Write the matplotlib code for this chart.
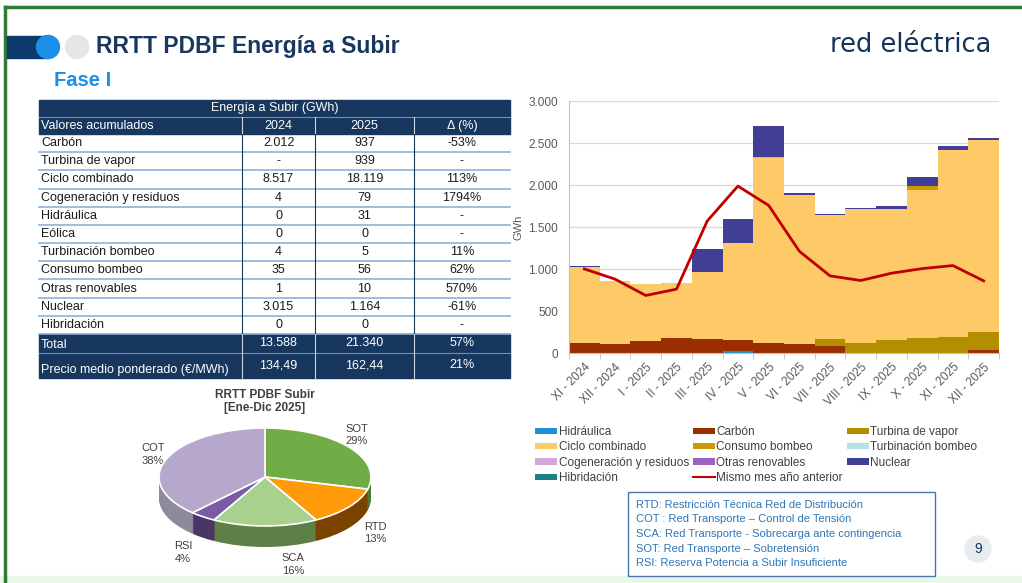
import matplotlib.pyplot as plt
import numpy as np
from matplotlib.patches import Rectangle, Circle, Patch
from matplotlib.lines import Line2D

plt.rcParams['font.family'] = ['Liberation Sans', 'DejaVu Sans']

# ---- bar chart data (GWh) ----
months = ["XI - 2024", "XII - 2024", "I - 2025", "II - 2025", "III - 2025", "IV - 2025", "V - 2025",
          "VI - 2025", "VII - 2025", "VIII - 2025", "IX - 2025", "X - 2025", "XI - 2025", "XII - 2025"]
hidraulica = [0, 0, 0, 0, 0, 28, 0, 0, 0, 0, 0, 0, 0, 0]
carbon = [125, 110, 138, 178, 162, 122, 123, 110, 80, 0, 0, 0, 0, 30]
turbina_vapor = [0, 0, 0, 0, 0, 0, 0, 0, 85, 125, 155, 180, 185, 215]
ciclo_combinado = [895, 750, 685, 660, 808, 1164, 2200, 1770, 1475, 1595, 1565, 1760, 2235, 2290]
consumo_bombeo = [0, 0, 0, 0, 0, 0, 0, 0, 0, 0, 0, 50, 0, 0]
turbinacion_bombeo = [0, 0, 0, 0, 0, 0, 0, 0, 0, 0, 0, 0, 0, 0]
cogeneracion = [0, 0, 0, 0, 0, 0, 10, 5, 0, 0, 0, 0, 0, 0]
otras_renovables = [0, 0, 0, 0, 0, 0, 0, 0, 0, 0, 0, 0, 0, 0]
nuclear = [15, 0, 0, 0, 265, 277, 370, 25, 18, 5, 35, 110, 50, 25]
hibridacion = [0, 0, 0, 0, 0, 0, 0, 0, 0, 0, 0, 0, 0, 0]
mismo_mes_anterior = [1001, 879, 685, 760, 1571, 1987, 1757, 1211, 918, 863, 950, 1005, 1041, 859]

# ---- table data ----
tabla_filas = ["Carbón", "Turbina de vapor", "Ciclo combinado", "Cogeneración y residuos", "Hidráulica",
               "Eólica", "Turbinación bombeo", "Consumo bombeo", "Otras renovables", "Nuclear", "Hibridación"]
tabla_2024 = ["2.012", "-", "8.517", "4", "0", "0", "4", "35", "1", "3.015", "0"]
tabla_2025 = ["937", "939", "18.119", "79", "31", "0", "5", "56", "10", "1.164", "0"]
tabla_delta = ["-53%", "-", "113%", "1794%", "-", "-", "11%", "62%", "570%", "-61%", "-"]
total_fila = ["Total", "13.588", "21.340", "57%"]
precio_fila = ["Precio medio ponderado (€/MWh)", "134,49", "162,44", "21%"]

# ---- pie data ----
pie_labels = ["SOT", "RTD", "SCA", "RSI", "COT"]
pie_values = [29, 13, 16, 4, 38]

notas = ["RTD: Restricción Técnica Red de Distribución",
         "COT : Red Transporte – Control de Tensión",
         "SCA: Red Transporte - Sobrecarga ante contingencia",
         "SOT: Red Transporte – Sobretensión",
         "RSI: Reserva Potencia a Subir Insuficiente"]

NAVY = "#17375e"
W, H = 1022, 583

fig = plt.figure(figsize=(W / 100, H / 100), dpi=100)

# background axes in pixel coordinates
bg = fig.add_axes([0, 0, 1, 1])
bg.set_xlim(0, W)
bg.set_ylim(H, 0)
bg.axis("off")

# slide frame
bg.add_patch(Rectangle((0, 0), W, H, color="white", zorder=0))
bg.add_patch(Rectangle((0, 576), W, 7, color="#e9f6e9", zorder=1))
bg.plot([5, W], [7, 7], color="#2f7d32", lw=2.5, zorder=2)
bg.plot([5, 5], [7, H], color="#2f7d32", lw=2.5, zorder=2)

# title decoration
bg.add_patch(Rectangle((7, 36), 41, 22, color="#0b3a6b", zorder=2))
bg.add_patch(Circle((48, 47), 11.5, color="#1a8fe8", zorder=3))
bg.add_patch(Circle((77, 47), 11.5, color="#e4e6e9", zorder=3))
bg.text(96, 47, "RRTT PDBF Energía a Subir", fontsize=16.5, fontweight="bold", color=NAVY,
        va="center", ha="left")
bg.text(54, 81, "Fase I", fontsize=14.5, fontweight="bold", color="#1a8fe8", va="center", ha="left")
bg.text(911, 45, "red eléctrica", fontsize=18.5, color="#14345a", va="center", ha="center",
        family="DejaVu Sans")

# ---- table ----
cx = [39, 242, 315, 414, 510]
centers = [(cx[1] + cx[2]) / 2, (cx[2] + cx[3]) / 2, (cx[3] + cx[4]) / 2]
bg.add_patch(Rectangle((39, 100), 471, 34, color=NAVY, zorder=2))
bg.text(275, 108.5, "Energía a Subir (GWh)", color="white", fontsize=9, ha="center", va="center", zorder=3)
bg.plot([39, 510], [117, 117], color="#6d8fb8", lw=0.8, zorder=3)
bg.text(41, 126, "Valores acumulados", color="white", fontsize=9, ha="left", va="center", zorder=3)
for xc, t in zip(centers, ["2024", "2025", "Δ (%)"]):
    bg.text(xc, 126, t, color="white", fontsize=9, ha="center", va="center", zorder=3)
for x in cx[1:4]:
    bg.plot([x, x], [117, 134], color="#c9d6e6", lw=0.8, zorder=3)

row_h = 200 / 11
for i, nombre in enumerate(tabla_filas):
    y0 = 134 + i * row_h
    yc = y0 + row_h / 2
    bg.text(41, yc, nombre, fontsize=9, color="#1a1a1a", ha="left", va="center", zorder=3)
    for xc, t in zip(centers, [tabla_2024[i], tabla_2025[i], tabla_delta[i]]):
        bg.text(xc, yc, t, fontsize=9, color="#1a1a1a", ha="center", va="center", zorder=3)
    bg.plot([39, 510], [y0 + row_h, y0 + row_h], color="#8fb1d9", lw=1.2, zorder=3)
for x in cx[1:4]:
    bg.plot([x, x], [134, 334], color=NAVY, lw=0.8, zorder=3)

bg.add_patch(Rectangle((39, 334), 471, 44, color=NAVY, zorder=2))
bg.plot([39, 510], [353, 353], color="#6d8fb8", lw=0.8, zorder=3)
for x in cx[1:4]:
    bg.plot([x, x], [334, 378], color="#c9d6e6", lw=0.8, zorder=3)
bg.text(41, 345, total_fila[0], color="white", fontsize=9, ha="left", va="center", zorder=3)
bg.text(41, 370, precio_fila[0], color="white", fontsize=9, ha="left", va="center", zorder=3)
for j, xc in enumerate(centers):
    bg.text(xc, 343.5, total_fila[j + 1], color="white", fontsize=9, ha="center", va="center", zorder=3)
    bg.text(xc, 365, precio_fila[j + 1], color="white", fontsize=9, ha="center", va="center", zorder=3)

# ---- stacked bar chart ----
ax = fig.add_axes([569 / W, 1 - 353 / H, (999 - 569) / W, (353 - 101) / H])
ax.patch.set_alpha(0)
x = np.arange(len(months))
series = [
    ("Hidráulica", hidraulica, "#1f8fd6"),
    ("Carbón", carbon, "#9a2e00"),
    ("Turbina de vapor", turbina_vapor, "#b38f00"),
    ("Ciclo combinado", ciclo_combinado, "#fdca67"),
    ("Consumo bombeo", consumo_bombeo, "#cc9a06"),
    ("Turbinación bombeo", turbinacion_bombeo, "#b5e1e6"),
    ("Cogeneración y residuos", cogeneracion, "#d5a6d6"),
    ("Otras renovables", otras_renovables, "#9a63c4"),
    ("Nuclear", nuclear, "#403e95"),
    ("Hibridación", hibridacion, "#1a8185"),
]
bottom = np.zeros(len(months))
handles = {}
for name, vals, col in series:
    ax.bar(x, vals, bottom=bottom, width=1.0, color=col, linewidth=0, zorder=2)
    handles[name] = Patch(facecolor=col)
    bottom += np.array(vals)
ax.plot(x, mismo_mes_anterior, color="#c00000", lw=2, zorder=3)
handles["Mismo mes año anterior"] = Line2D([], [], color="#c00000", lw=1.5)

ax.set_xlim(-0.5, len(months) - 0.5)
ax.set_ylim(0, 3000)
ax.set_yticks(range(0, 3001, 500))
ax.set_yticklabels([f"{v:,}".replace(",", ".") for v in range(0, 3001, 500)])
ax.yaxis.grid(True, color="#d9d9d9", lw=0.9, zorder=0)
ax.set_axisbelow(True)
ax.set_xticks(x)
ax.set_xticklabels(months, rotation=45, ha="right", rotation_mode="anchor")
ax.set_xticks(np.arange(-0.5, len(months)), minor=True)
ax.tick_params(axis="x", which="major", length=0, pad=6, labelsize=8.5, labelcolor="#595959")
ax.tick_params(axis="x", which="minor", length=4, color="#bfbfbf")
ax.tick_params(axis="y", length=0, labelsize=8.5, labelcolor="#595959", pad=8)
for s in ["top", "right"]:
    ax.spines[s].set_visible(False)
for s in ["left", "bottom"]:
    ax.spines[s].set_color("#bfbfbf")
ax.set_ylabel("GWh", fontsize=8, color="#595959", labelpad=3)

order = ["Hidráulica", "Ciclo combinado", "Cogeneración y residuos", "Hibridación",
         "Carbón", "Consumo bombeo", "Otras renovables", "Mismo mes año anterior",
         "Turbina de vapor", "Turbinación bombeo", "Nuclear"]
fig.legend([handles[k] for k in order], order, ncol=3, loc="upper left",
           bbox_to_anchor=(535 / W, 1 - 426 / H), frameon=False, fontsize=8.5,
           handlelength=1.9, handleheight=0.45, handletextpad=0.12, columnspacing=0.3,
           labelspacing=0.28, borderpad=0, borderaxespad=0, labelcolor="#404040")

# ---- 3D-looking pie ----
pcx, pcy, pa, pb, depth = 265, 477, 106, 49, 21
pad = 12
pax = fig.add_axes([(pcx - pa - pad) / W, 1 - (pcy + pb + depth + pad) / H,
                    (2 * pa + 2 * pad) / W, (2 * pb + depth + 2 * pad) / H])
pax.patch.set_alpha(0)
top_cols = ["#70ad47", "#ff9a0a", "#a9d18e", "#7c5ba6", "#b6a8cc"]
side_cols = ["#4e7a31", "#7a4300", "#5e7f46", "#4a3566", "#8f8a9a"]
for d in np.linspace(depth / pb, 0, 25)[:-1]:
    pax.pie(pie_values, colors=side_cols, startangle=90, counterclock=False, center=(0, -d),
            radius=1, wedgeprops=dict(linewidth=0), frame=True)
pax.pie(pie_values, colors=top_cols, startangle=90, counterclock=False, center=(0, 0),
        radius=1, wedgeprops=dict(edgecolor="white", linewidth=1.2), frame=True)
pax.set_aspect("auto")
pax.set_xlim(-(pa + pad) / pa, (pa + pad) / pa)
pax.set_ylim(-(pb + depth + pad) / pb, (pb + pad) / pb)
pax.axis("off")

bg.text(265, 395, "RRTT PDBF Subir", fontsize=8.5, fontweight="bold", color="#404040", ha="center", va="center")
bg.text(265, 408, "[Ene-Dic 2025]", fontsize=8.5, fontweight="bold", color="#404040", ha="center", va="center")
label_pos = {"SOT": (357, 429), "RTD": (375, 527), "SCA": (293, 558), "RSI": (183, 546), "COT": (153, 448)}
for lab, val in zip(pie_labels, pie_values):
    lx, ly = label_pos[lab]
    bg.text(lx, ly, lab, fontsize=8, color="#404040", ha="center", va="center")
    bg.text(lx, ly + 12.5, f"{val}%", fontsize=8, color="#404040", ha="center", va="center")

# ---- notes box ----
bg.add_patch(Rectangle((628, 492), 307, 84, facecolor="white", edgecolor="#4a77a8", lw=1, zorder=2))
for i, t in enumerate(notas):
    bg.text(636, 505 + i * 14.5, t, fontsize=8, color="#2e75b6", ha="left", va="center", zorder=3)

# page number
bg.add_patch(Circle((978, 549), 13, color="#e8ecf0", zorder=2))
bg.text(978, 549, "9", fontsize=10, color=NAVY, ha="center", va="center", zorder=3)

fig.savefig("out.png", dpi=100)
